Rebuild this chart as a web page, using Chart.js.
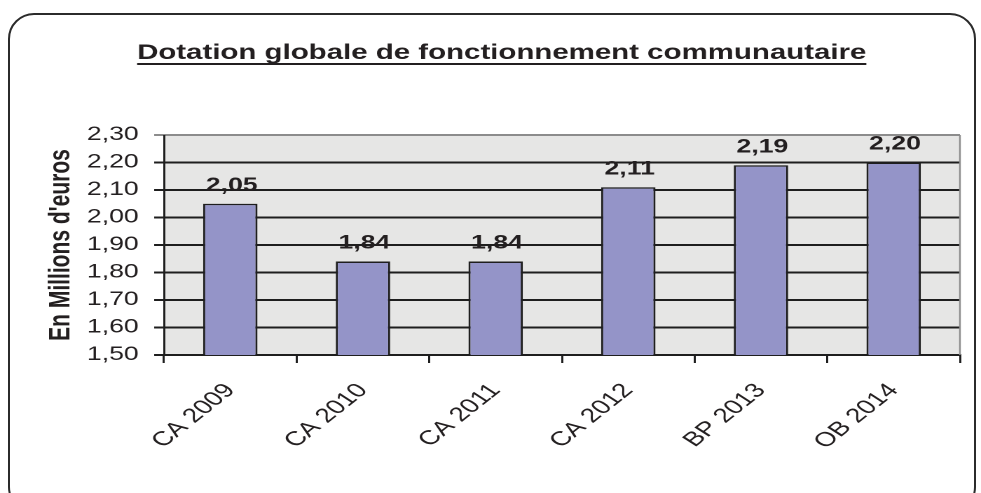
<!DOCTYPE html>
<html>
<head>
<meta charset="utf-8">
<script src="https://cdn.jsdelivr.net/npm/chart.js@4/dist/chart.umd.min.js"></script>
<style>
  html, body { margin: 0; padding: 0; background: #fff; overflow: hidden; }
  body { width: 981px; height: 493px; position: relative; }
  .frame {
    position: absolute; left: 8px; top: 13px; width: 968px; height: 500px;
    border: 2px solid #2b2b2b; border-radius: 26px; box-sizing: border-box;
  }
  /* the source picture is stretched sideways, so the chart is drawn narrow and widened */
  .wrap {
    position: absolute; left: 0; top: 0; width: 700px; height: 493px;
    transform: scaleX(1.4014); transform-origin: 0 0;
  }
</style>
</head>
<body>
<div class="frame"></div>
<div class="wrap"><canvas id="dgf-chart"></canvas></div>
<script>
/* ── DATA ── */
const TITLE      = 'Dotation globale de fonctionnement communautaire';
const Y_TITLE    = "En Millions d'euros";
const categories = ['CA 2009', 'CA 2010', 'CA 2011', 'CA 2012', 'BP 2013', 'OB 2014'];
const values     = [2.05, 1.84, 1.84, 2.11, 2.19, 2.20];
const yMin  = 1.50;
const yMax  = 2.30;
const yStep = 0.10;

const FONT    = '"Liberation Sans", Arial, sans-serif';
const inkClr  = '#231f20';
const barClr  = '#9494c8';
const fmt     = v => Number(v).toFixed(2).replace('.', ',');

/* ── PLUGINS ── */
const plotBg = {
  id: 'plotBg',
  beforeDraw(chart) {
    const {ctx, chartArea: a} = chart;
    ctx.save();
    ctx.fillStyle = '#e6e6e5';
    ctx.fillRect(a.left, a.top, a.right - a.left, a.bottom - a.top);
    ctx.restore();
  },
  afterDatasetsDraw(chart) {
    const {ctx, chartArea: a} = chart;
    ctx.save();
    ctx.strokeStyle = '#8c8c8c';
    ctx.lineWidth = 1.2;
    ctx.beginPath();
    ctx.moveTo(a.right, a.top);
    ctx.lineTo(a.right, a.bottom);
    ctx.stroke();
    ctx.restore();
  }
};

const valueLabels = {
  id: 'valueLabels',
  afterDatasetsDraw(chart) {
    const {ctx} = chart;
    const meta = chart.getDatasetMeta(0);
    ctx.save();
    ctx.font = `bold 19px ${FONT}`;
    ctx.fillStyle = inkClr;
    ctx.textAlign = 'center';
    ctx.textBaseline = 'alphabetic';
    meta.data.forEach((bar, i) => {
      ctx.fillText(fmt(values[i]), bar.x + 1, bar.y - 13);
    });
    ctx.restore();
  }
};

const underlinedTitle = {
  id: 'underlinedTitle',
  afterDraw(chart) {
    const {ctx} = chart;
    const x = chart.width / 2 + 8;
    const y = 59;
    ctx.save();
    ctx.font = `bold 21px ${FONT}`;
    ctx.fillStyle = inkClr;
    ctx.textAlign = 'center';
    ctx.textBaseline = 'alphabetic';
    ctx.fillText(TITLE, x, y);
    const w = ctx.measureText(TITLE).width;
    ctx.fillRect(x - w / 2, y + 4, w, 2);
    ctx.restore();
  }
};

/* ── CHART ── */
new Chart(document.getElementById('dgf-chart').getContext('2d'), {
  type: 'bar',
  plugins: [plotBg, valueLabels, underlinedTitle],
  data: {
    labels: categories,
    datasets: [{
      data: values,
      backgroundColor: barClr,
      borderColor: '#1e1e1e',
      borderWidth: 1.5,
      barPercentage: 0.41,
      categoryPercentage: 1.0
    }]
  },
  options: {
    responsive: true,
    maintainAspectRatio: false,
    devicePixelRatio: 2,
    animation: false,
    layout: { padding: { top: 135, right: 15, bottom: 0, left: 0 } },
    plugins: {
      legend: { display: false },
      title: { display: false },
      tooltip: { enabled: false }
    },
    scales: {
      x: {
        offset: true,
        // fixed box so the plot area lands where the original has it
        afterFit: s => { s.height = 138; s.paddingLeft = 0; s.paddingRight = 0; },
        grid: { offset: true, drawOnChartArea: false, drawTicks: true, tickLength: 8, color: '#1e1e1e', lineWidth: 1.5 },
        border: { display: true, color: '#1e1e1e', width: 2 },
        ticks: {
          color: inkClr, padding: 16, minRotation: 48, maxRotation: 48,
          font: { size: 20, family: FONT }
        }
      },
      y: {
        min: yMin,
        max: yMax,
        afterFit: s => { s.width = 117; },
        grid: {
          color: c => (c.tick && Math.abs(c.tick.value - yMax) < 1e-6) ? '#8c8c8c' : '#1e1e1e',
          lineWidth: 2, tickLength: 7
        },
        border: { display: true, color: '#1e1e1e', width: 1.5 },
        ticks: {
          stepSize: yStep, color: inkClr, padding: 11,
          font: { size: 19, family: FONT },
          callback: v => fmt(v)
        },
        title: {
          display: true, text: Y_TITLE, color: inkClr,
          font: { size: 21, weight: 'bold', family: FONT, lineHeight: 1.0 },
          padding: { top: 33, bottom: 0 }
        }
      }
    }
  }
});
</script>
</body>
</html>
